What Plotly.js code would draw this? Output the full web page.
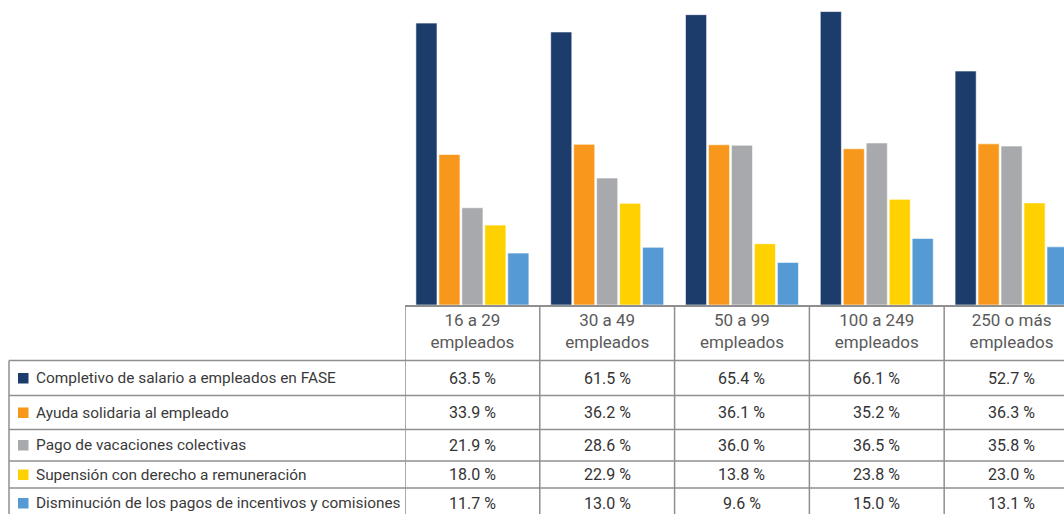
<!DOCTYPE html>
<html>
<head>
<meta charset="utf-8">
<script src="https://cdn.plot.ly/plotly-3.0.1.min.js"></script>
<style>
html,body{margin:0;padding:0;background:#fff;}
#chart{width:1064px;height:514px;}
</style>
</head>
<body>
<div id="chart"></div>
<script>
// ---- DATA ----
const categories = ["16 a 29<br>empleados", "30 a 49<br>empleados", "50 a 99<br>empleados", "100 a 249<br>empleados", "250 o más<br>empleados"];
const seriesNames = [
  "Completivo de salario a empleados en FASE",
  "Ayuda solidaria al empleado",
  "Pago de vacaciones colectivas",
  "Supensión con derecho a remuneración",
  "Disminución de los pagos de incentivos y comisiones"
];
const completivo   = [63.5, 61.5, 65.4, 66.1, 52.7];
const ayuda        = [33.9, 36.2, 36.1, 35.2, 36.3];
const vacaciones   = [21.9, 28.6, 36.0, 36.5, 35.8];
const suspension   = [18.0, 22.9, 13.8, 23.8, 23.0];
const disminucion  = [11.7, 13.0, 9.6, 15.0, 13.1];
const seriesValues = [completivo, ayuda, vacaciones, suspension, disminucion];
const colors = ["#1c3d6b", "#f7981d", "#a7a9ac", "#ffd100", "#559ad4"];

// ---- LAYOUT GEOMETRY (pixels) ----
const W = 1064, H = 514;
const plotL = 405, plotR = 1064, plotT = 0, plotB = 305;
const px2x = p => (p - plotL) / (plotR - plotL);
const py2y = p => (plotB - p) / (plotB - plotT);
const rowLines = [360.5, 395.5, 429.5, 461, 488];
const rowCenters = [378, 412.5, 445, 474.5, 503];
const lineColor = "#8f8f8f";

const catIdx = categories.map((_, i) => i);

const traces = seriesValues.map((vals, s) => ({
  type: "bar",
  x: catIdx,
  y: vals,
  name: seriesNames[s],
  marker: {color: colors[s], line: {color: "rgba(255,255,255,0.6)", width: 1}},
  showlegend: false,
  hoverinfo: "skip"
}));

const shapes = [];
const annotations = [];

// horizontal table lines
rowLines.forEach(p => shapes.push({
  type: "line", xref: "paper", yref: "paper",
  x0: px2x(9), x1: 1, y0: py2y(p), y1: py2y(p),
  line: {color: lineColor, width: 1.5}
}));
// left border
shapes.push({type: "line", xref: "paper", yref: "paper",
  x0: px2x(9), x1: px2x(9), y0: py2y(rowLines[0]), y1: py2y(H + 5),
  line: {color: lineColor, width: 1.5}});
// column boundaries
for (let i = 0; i < categories.length; i++) {
  shapes.push({type: "line", xref: "x", yref: "paper",
    x0: i - 0.5, x1: i - 0.5, y0: 0, y1: py2y(H + 5),
    line: {color: lineColor, width: 1.5}});
}

// legend column
seriesNames.forEach((name, s) => {
  const c = rowCenters[s];
  shapes.push({type: "rect", xref: "paper", yref: "paper",
    x0: px2x(18), x1: px2x(28.5), y0: py2y(c - 5), y1: py2y(c + 5.5),
    fillcolor: colors[s], line: {width: 0}});
  annotations.push({xref: "paper", yref: "paper", x: px2x(34), y: py2y(c),
    xanchor: "left", yanchor: "middle", showarrow: false, text: name,
    font: {family: "Roboto", size: 15.4, color: "#3a3a3a"}});
});

// values
seriesValues.forEach((vals, s) => {
  vals.forEach((v, i) => {
    annotations.push({xref: "x", yref: "paper", x: i, y: py2y(rowCenters[s]),
      xanchor: "center", yanchor: "middle", showarrow: false,
      text: v.toFixed(1) + " %",
      font: {family: "Roboto", size: 16, color: "#333"}});
  });
});

const layout = {
  width: W, height: H,
  margin: {l: plotL, r: W - plotR, t: plotT, b: H - plotB, pad: 0},
  paper_bgcolor: "#fff", plot_bgcolor: "#fff",
  barmode: "group", bargap: 0.148, bargroupgap: 0.08,
  xaxis: {
    range: [-0.5, 4.389], tickmode: "array", tickvals: catIdx, ticktext: categories,
    showline: true, linecolor: lineColor, linewidth: 1.5, ticks: "",
    showgrid: false, zeroline: false, ticklabelstandoff: -1,
    tickfont: {family: "Roboto", size: 17, color: "#5a5a5a"}
  },
  yaxis: {range: [0, 68.7], visible: false, showgrid: false, zeroline: false},
  shapes: shapes,
  annotations: annotations
};

Plotly.newPlot("chart", traces, layout, {displayModeBar: false, staticPlot: true});
</script>
</body>
</html>
